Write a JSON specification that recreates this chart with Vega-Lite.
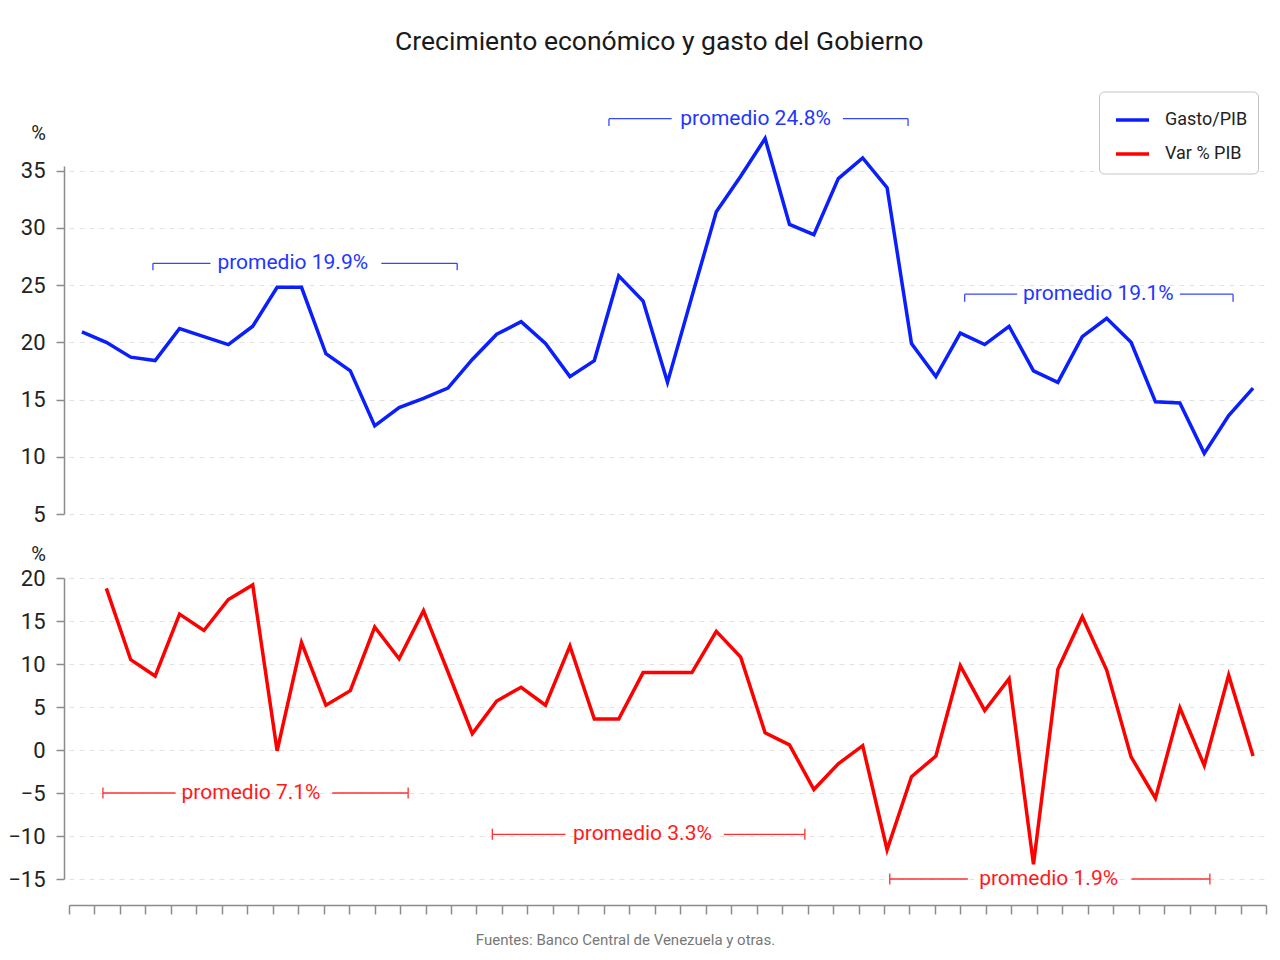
{
  "$schema": "https://vega.github.io/schema/vega-lite/v6.json",
  "background": "white",
  "padding": {"left": 7, "top": 29, "right": 5, "bottom": 5},
  "bounds": "flush",
  "spacing": 64,
  "title": {"text": "Crecimiento económico y gasto del Gobierno", "fontSize": 26.5, "fontWeight": "normal", "font": "Roboto, sans-serif", "color": "#1a1a1a", "anchor": "middle", "offset": 35.5, "dx": 22},
  "config": {
    "font": "Roboto, sans-serif",
    "view": {"stroke": null},
    "axis": {"labelFont": "Roboto, sans-serif", "titleFont": "Roboto, sans-serif", "domainColor": "#8c8c8c", "tickColor": "#8c8c8c", "gridColor": "#e2e2e2", "gridDash": [5, 5], "labelColor": "#222222", "titleColor": "#222222", "titleFontWeight": "normal", "domainWidth": 1.5, "tickWidth": 1.5}
  },
  "resolve": {"scale": {"color": "independent"}, "legend": {"color": "independent"}},
  "datasets": {
    "gasto": [
      {"anio": 1950, "valor": 20.9, "serie": "Gasto/PIB"},
      {"anio": 1951, "valor": 20.0, "serie": "Gasto/PIB"},
      {"anio": 1952, "valor": 18.7, "serie": "Gasto/PIB"},
      {"anio": 1953, "valor": 18.4, "serie": "Gasto/PIB"},
      {"anio": 1954, "valor": 21.2, "serie": "Gasto/PIB"},
      {"anio": 1955, "valor": 20.5, "serie": "Gasto/PIB"},
      {"anio": 1956, "valor": 19.8, "serie": "Gasto/PIB"},
      {"anio": 1957, "valor": 21.4, "serie": "Gasto/PIB"},
      {"anio": 1958, "valor": 24.8, "serie": "Gasto/PIB"},
      {"anio": 1959, "valor": 24.8, "serie": "Gasto/PIB"},
      {"anio": 1960, "valor": 19.0, "serie": "Gasto/PIB"},
      {"anio": 1961, "valor": 17.5, "serie": "Gasto/PIB"},
      {"anio": 1962, "valor": 12.7, "serie": "Gasto/PIB"},
      {"anio": 1963, "valor": 14.3, "serie": "Gasto/PIB"},
      {"anio": 1964, "valor": 15.1, "serie": "Gasto/PIB"},
      {"anio": 1965, "valor": 16.0, "serie": "Gasto/PIB"},
      {"anio": 1966, "valor": 18.5, "serie": "Gasto/PIB"},
      {"anio": 1967, "valor": 20.7, "serie": "Gasto/PIB"},
      {"anio": 1968, "valor": 21.8, "serie": "Gasto/PIB"},
      {"anio": 1969, "valor": 19.9, "serie": "Gasto/PIB"},
      {"anio": 1970, "valor": 17.0, "serie": "Gasto/PIB"},
      {"anio": 1971, "valor": 18.4, "serie": "Gasto/PIB"},
      {"anio": 1972, "valor": 25.8, "serie": "Gasto/PIB"},
      {"anio": 1973, "valor": 23.6, "serie": "Gasto/PIB"},
      {"anio": 1974, "valor": 16.5, "serie": "Gasto/PIB"},
      {"anio": 1975, "valor": 24.0, "serie": "Gasto/PIB"},
      {"anio": 1976, "valor": 31.4, "serie": "Gasto/PIB"},
      {"anio": 1977, "valor": 34.5, "serie": "Gasto/PIB"},
      {"anio": 1978, "valor": 37.8, "serie": "Gasto/PIB"},
      {"anio": 1979, "valor": 30.3, "serie": "Gasto/PIB"},
      {"anio": 1980, "valor": 29.4, "serie": "Gasto/PIB"},
      {"anio": 1981, "valor": 34.3, "serie": "Gasto/PIB"},
      {"anio": 1982, "valor": 36.1, "serie": "Gasto/PIB"},
      {"anio": 1983, "valor": 33.5, "serie": "Gasto/PIB"},
      {"anio": 1984, "valor": 19.9, "serie": "Gasto/PIB"},
      {"anio": 1985, "valor": 17.0, "serie": "Gasto/PIB"},
      {"anio": 1986, "valor": 20.8, "serie": "Gasto/PIB"},
      {"anio": 1987, "valor": 19.8, "serie": "Gasto/PIB"},
      {"anio": 1988, "valor": 21.4, "serie": "Gasto/PIB"},
      {"anio": 1989, "valor": 17.5, "serie": "Gasto/PIB"},
      {"anio": 1990, "valor": 16.5, "serie": "Gasto/PIB"},
      {"anio": 1991, "valor": 20.5, "serie": "Gasto/PIB"},
      {"anio": 1992, "valor": 22.1, "serie": "Gasto/PIB"},
      {"anio": 1993, "valor": 20.0, "serie": "Gasto/PIB"},
      {"anio": 1994, "valor": 14.8, "serie": "Gasto/PIB"},
      {"anio": 1995, "valor": 14.7, "serie": "Gasto/PIB"},
      {"anio": 1996, "valor": 10.3, "serie": "Gasto/PIB"},
      {"anio": 1997, "valor": 13.6, "serie": "Gasto/PIB"},
      {"anio": 1998, "valor": 16.0, "serie": "Gasto/PIB"}
    ],
    "pib": [
      {"anio": 1951, "valor": 18.8},
      {"anio": 1952, "valor": 10.5},
      {"anio": 1953, "valor": 8.6},
      {"anio": 1954, "valor": 15.8},
      {"anio": 1955, "valor": 13.9},
      {"anio": 1956, "valor": 17.5},
      {"anio": 1957, "valor": 19.2},
      {"anio": 1958, "valor": -0.1},
      {"anio": 1959, "valor": 12.5},
      {"anio": 1960, "valor": 5.2},
      {"anio": 1961, "valor": 6.9},
      {"anio": 1962, "valor": 14.3},
      {"anio": 1963, "valor": 10.6},
      {"anio": 1964, "valor": 16.2},
      {"anio": 1965, "valor": 9.1},
      {"anio": 1966, "valor": 1.9},
      {"anio": 1967, "valor": 5.7},
      {"anio": 1968, "valor": 7.3},
      {"anio": 1969, "valor": 5.2},
      {"anio": 1970, "valor": 12.1},
      {"anio": 1971, "valor": 3.6},
      {"anio": 1972, "valor": 3.6},
      {"anio": 1973, "valor": 9.0},
      {"anio": 1974, "valor": 9.0},
      {"anio": 1975, "valor": 9.0},
      {"anio": 1976, "valor": 13.8},
      {"anio": 1977, "valor": 10.8},
      {"anio": 1978, "valor": 2.0},
      {"anio": 1979, "valor": 0.6},
      {"anio": 1980, "valor": -4.6},
      {"anio": 1981, "valor": -1.6},
      {"anio": 1982, "valor": 0.5},
      {"anio": 1983, "valor": -11.6},
      {"anio": 1984, "valor": -3.1},
      {"anio": 1985, "valor": -0.7},
      {"anio": 1986, "valor": 9.8},
      {"anio": 1987, "valor": 4.6},
      {"anio": 1988, "valor": 8.3},
      {"anio": 1989, "valor": -13.3},
      {"anio": 1990, "valor": 9.4},
      {"anio": 1991, "valor": 15.5},
      {"anio": 1992, "valor": 9.3},
      {"anio": 1993, "valor": -0.8},
      {"anio": 1994, "valor": -5.6},
      {"anio": 1995, "valor": 4.9},
      {"anio": 1996, "valor": -1.8},
      {"anio": 1997, "valor": 8.7},
      {"anio": 1998, "valor": -0.7}
    ],
    "brTop": [
      {"label": "promedio 19.9%", "xl": 1952.91, "xls": 1955.27, "xc": 1958.64, "xrs": 1962.27, "xr": 1965.38, "y": 26.9, "ya": 26.9, "yb": 26.3},
      {"label": "promedio 24.8%", "xl": 1971.60, "xls": 1974.17, "xc": 1977.61, "xrs": 1981.19, "xr": 1983.86, "y": 39.53, "ya": 39.53, "yb": 38.9},
      {"label": "promedio 19.1%", "xl": 1986.18, "xls": 1988.33, "xc": 1991.66, "xrs": 1995.0, "xr": 1997.18, "y": 24.2, "ya": 24.2, "yb": 23.55}
    ],
    "brBot": [
      {"label": "promedio 7.1%", "xl": 1950.86, "xls": 1953.84, "xc": 1956.93, "xrs": 1960.26, "xr": 1963.37, "y": -5.0, "ya": -4.35, "yb": -5.65},
      {"label": "promedio 3.3%", "xl": 1966.82, "xls": 1969.82, "xc": 1972.97, "xrs": 1976.31, "xr": 1979.63, "y": -9.8, "ya": -9.15, "yb": -10.45},
      {"label": "promedio 1.9%", "xl": 1983.11, "xls": 1986.31, "xc": 1989.62, "xrs": 1993.02, "xr": 1996.23, "y": -15.0, "ya": -14.35, "yb": -15.65}
    ]
  },
  "vconcat": [
    {
      "width": 1197,
      "height": 348,
      "layer": [
        {
          "data": {"name": "gasto"},
          "mark": {"type": "line", "strokeWidth": 3.5, "strokeJoin": "miter"},
          "encoding": {
            "x": {"field": "anio", "type": "quantitative", "scale": {"domain": [1949.47, 1998.53], "nice": false, "zero": false}, "axis": null},
            "y": {"field": "valor", "type": "quantitative", "scale": {"domain": [5, 35.4], "nice": false, "zero": false},
              "axis": {"title": "%", "titleAngle": 0, "titleX": -26, "titleY": -33, "titleAlign": "center", "titleBaseline": "middle", "titleFontSize": 20, "values": [5, 10, 15, 20, 25, 30, 35], "offset": 5, "tickSize": 8, "labelPadding": 11, "labelFontSize": 22, "grid": true}},
            "color": {"field": "serie", "type": "nominal",
              "scale": {"domain": ["Gasto/PIB", "Var % PIB"], "range": ["#0a1ffb", "#ff0000"]},
              "legend": {"orient": "none", "legendX": 1030, "legendY": -74.5, "title": null, "strokeColor": "#c4c4c4", "fillColor": "white", "cornerRadius": 5, "padding": 10, "symbolType": "stroke", "symbolSize": 1089, "symbolStrokeWidth": 3.5, "symbolOffset": 5, "labelFontSize": 18, "labelColor": "#222222", "labelOffset": 14, "rowPadding": 6, "labelLimit": 200}}
          }
        },
        {
          "data": {"name": "brTop"},
          "mark": {"type": "rule", "color": "#3347ff", "strokeWidth": 1.3},
          "encoding": {"x": {"field": "xl", "type": "quantitative", "axis": null}, "x2": {"field": "xls"}, "y": {"field": "y", "type": "quantitative"}}
        },
        {
          "data": {"name": "brTop"},
          "mark": {"type": "rule", "color": "#3347ff", "strokeWidth": 1.3},
          "encoding": {"x": {"field": "xrs", "type": "quantitative", "axis": null}, "x2": {"field": "xr"}, "y": {"field": "y", "type": "quantitative"}}
        },
        {
          "data": {"name": "brTop"},
          "mark": {"type": "rule", "color": "#3347ff", "strokeWidth": 1.3},
          "encoding": {"x": {"field": "xl", "type": "quantitative", "axis": null}, "y": {"field": "ya", "type": "quantitative"}, "y2": {"field": "yb"}}
        },
        {
          "data": {"name": "brTop"},
          "mark": {"type": "rule", "color": "#3347ff", "strokeWidth": 1.3},
          "encoding": {"x": {"field": "xr", "type": "quantitative", "axis": null}, "y": {"field": "ya", "type": "quantitative"}, "y2": {"field": "yb"}}
        },
        {
          "data": {"name": "brTop"},
          "mark": {"type": "text", "color": "#2236ff", "fontSize": 21, "align": "center", "baseline": "middle"},
          "encoding": {"x": {"field": "xc", "type": "quantitative", "axis": null}, "y": {"field": "y", "type": "quantitative"}, "text": {"field": "label"}}
        }
      ]
    },
    {
      "width": 1197,
      "height": 301,
      "layer": [
        {
          "data": {"name": "pib"},
          "mark": {"type": "line", "strokeWidth": 3.5, "color": "#ff0000", "strokeJoin": "miter"},
          "encoding": {
            "x": {"field": "anio", "type": "quantitative", "scale": {"domain": [1949.47, 1998.53], "nice": false, "zero": false},
              "axis": {"values": [1949.47, 1950.514, 1951.558, 1952.601, 1953.645, 1954.689, 1955.733, 1956.777, 1957.821, 1958.864, 1959.908, 1960.952, 1961.996, 1963.04, 1964.084, 1965.127, 1966.171, 1967.215, 1968.259, 1969.303, 1970.347, 1971.39, 1972.434, 1973.478, 1974.522, 1975.566, 1976.61, 1977.653, 1978.697, 1979.741, 1980.785, 1981.829, 1982.873, 1983.916, 1984.96, 1986.004, 1987.048, 1988.092, 1989.136, 1990.179, 1991.223, 1992.267, 1993.311, 1994.355, 1995.399, 1996.442, 1997.486, 1998.53],
                "tickCount": 60, "labels": false, "grid": false, "offset": 26, "tickSize": 9, "title": "Fuentes: Banco Central de Venezuela y otras.", "titleFontSize": 15, "titleColor": "#777777", "titleX": 556, "titleY": 34, "titleAlign": "center", "titleBaseline": "middle"}},
            "y": {"field": "valor", "type": "quantitative", "scale": {"domain": [-15, 20], "nice": false, "zero": false},
              "axis": {"title": "%", "titleAngle": 0, "titleX": -26, "titleY": -24, "titleAlign": "center", "titleBaseline": "middle", "titleFontSize": 20, "values": [-15, -10, -5, 0, 5, 10, 15, 20], "offset": 5, "tickSize": 8, "labelPadding": 11, "labelFontSize": 22, "grid": true}}
          }
        },
        {
          "data": {"name": "brBot"},
          "mark": {"type": "rule", "color": "#ff3030", "strokeWidth": 1.3},
          "encoding": {"x": {"field": "xl", "type": "quantitative"}, "x2": {"field": "xls"}, "y": {"field": "y", "type": "quantitative"}}
        },
        {
          "data": {"name": "brBot"},
          "mark": {"type": "rule", "color": "#ff3030", "strokeWidth": 1.3},
          "encoding": {"x": {"field": "xrs", "type": "quantitative"}, "x2": {"field": "xr"}, "y": {"field": "y", "type": "quantitative"}}
        },
        {
          "data": {"name": "brBot"},
          "mark": {"type": "rule", "color": "#ff3030", "strokeWidth": 1.3},
          "encoding": {"x": {"field": "xl", "type": "quantitative"}, "y": {"field": "ya", "type": "quantitative"}, "y2": {"field": "yb"}}
        },
        {
          "data": {"name": "brBot"},
          "mark": {"type": "rule", "color": "#ff3030", "strokeWidth": 1.3},
          "encoding": {"x": {"field": "xr", "type": "quantitative"}, "y": {"field": "ya", "type": "quantitative"}, "y2": {"field": "yb"}}
        },
        {
          "data": {"name": "brBot"},
          "mark": {"type": "text", "color": "#ff1a1a", "fontSize": 21, "align": "center", "baseline": "middle"},
          "encoding": {"x": {"field": "xc", "type": "quantitative"}, "y": {"field": "y", "type": "quantitative"}, "text": {"field": "label"}}
        }
      ]
    }
  ]
}
